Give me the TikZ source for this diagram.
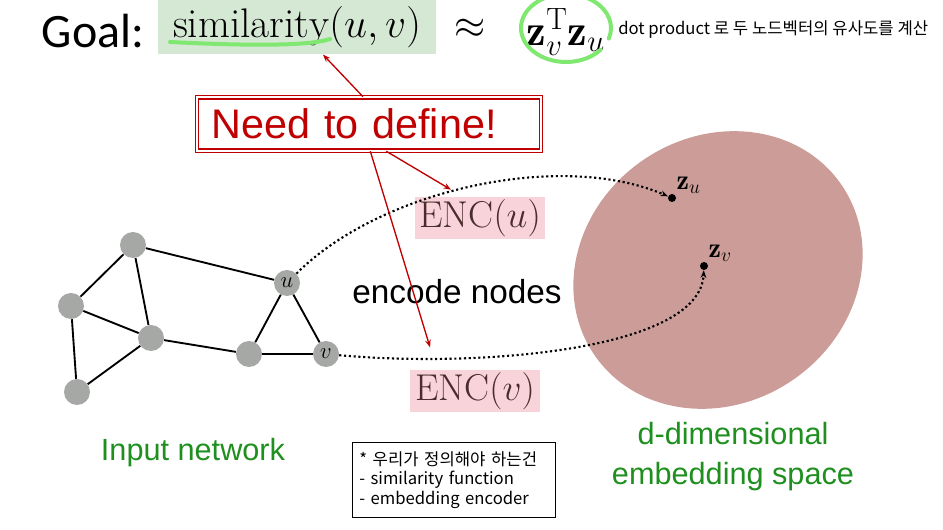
\RequirePackage{fix-cm}
\documentclass[tikz,border=0pt]{standalone}
\usepackage{amsmath}
\usepackage{fontspec}
\newfontfamily\arialf{Liberation Sans}
\newfontfamily\calibf{Carlito}
\newfontfamily\krfont{Noto Sans CJK KR}
\usetikzlibrary{arrows.meta,shapes.geometric}
\definecolor{goalbg}{HTML}{D5E8D4}
\definecolor{hilite}{HTML}{80E870}
\definecolor{needred}{HTML}{C00000}
\definecolor{encbg}{HTML}{F8D3DA}
\definecolor{enctxt}{HTML}{4A2C2C}
\definecolor{embfill}{HTML}{CC9D98}
\definecolor{gnode}{HTML}{A5A8A5}
\definecolor{lblgreen}{HTML}{1F8F1F}
\tikzset{
  >={Stealth[length=2mm]},
  vtx/.style={circle,fill=gnode,inner sep=0pt,minimum size=19.5pt,font=\fontsize{17}{20}\selectfont},
  gedge/.style={line width=1.4pt},
  encbox/.style={fill=encbg,text=enctxt,inner sep=0pt,minimum width=97pt,minimum height=32pt,font=\fontsize{28}{30}\selectfont},
  redarr/.style={->,draw=needred,line width=1pt},
  dotarr/.style={->,dotted,line width=1.6pt},
  greentxt/.style={text=lblgreen,font=\arialf\fontsize{23}{30}\selectfont,align=center},
  emb/.style={circle,fill=black,inner sep=0pt,minimum size=6pt},
}
\begin{document}
\begin{tikzpicture}[x=0.75pt,y=-0.75pt]
\useasboundingbox (0,0) rectangle (943,530);
% goal line
\node[font=\calibf\fontsize{36}{40}\selectfont] (goal) at (93,31) {Goal:};
\node[fill=goalbg,minimum width=209pt,minimum height=41pt,inner sep=0pt,
  font=\fontsize{31}{34}\selectfont] (sim) at (297,27) {$\mathrm{similarity}(u,v)$};
\draw[hilite,line width=3pt,line cap=round] (170,42) .. controls (250,46) and (310,46) .. (330,39);
\node[font=\fontsize{30}{34}\selectfont] (approx) at (470,29) {$\approx$};
\node[inner sep=0pt,font=\fontsize{33}{36}\selectfont] (dotp) at (566,32) {$\mathbf{z}_v^{\mathrm{T}}\mathbf{z}_u$};
\draw[hilite,line width=3pt,line cap=round] (566,28) ++(40:45 and 34) arc[start angle=40,end angle=378,x radius=45,y radius=34];
\node[anchor=west,inner sep=0pt,font=\krfont\fontsize{12.5}{14}\selectfont] (note1) at (618,30) {dot product 로 두 노드벡터의 유사도를 계산};

% need to define
\node[draw=needred,double=white,double distance=1.5pt,line width=0.9pt,
  minimum height=40pt,text width=236pt,inner xsep=11pt,align=left,
  text=needred,font=\arialf\fontsize{31}{34}\selectfont] (need) at (369,124) {Need to define!};

% embedding space
\node[ellipse,fill=embfill,minimum width=225pt,minimum height=199.5pt,inner sep=0pt,rotate=35] (space) at (718,270) {};
\node[emb] (zu) at (672,198) {};
\node[emb] (zv) at (704,266) {};
\node[anchor=south west,inner sep=1pt,font=\fontsize{21}{24}\selectfont] (zulab) at (zu.north east) {$\mathbf{z}_u$};
\node[anchor=south west,inner sep=1pt,font=\fontsize{21}{24}\selectfont] (zvlab) at (zv.north east) {$\mathbf{z}_v$};

% encoders
\node[encbox] (encu) at (480,218) {$\mathrm{ENC}(u)$};
\node[encbox] (encv) at (475,391) {$\mathrm{ENC}(v)$};
\node[font=\arialf\fontsize{25}{28}\selectfont] (encode) at (457,292) {encode nodes};

% input network
\node[vtx] (n1) at (133,245) {};
\node[vtx] (n2) at (71,306) {};
\node[vtx] (n3) at (151,338) {};
\node[vtx] (n4) at (77,392) {};
\node[vtx] (n5) at (249,354) {};
\node[vtx] (u) at (287,283) {$u$};
\node[vtx] (v) at (326,354) {$v$};
\foreach \a/\b in {n1/n2,n1/n3,n1/u,n2/n3,n2/n4,n4/n3,n3/n5,n5/u,n5/v,u/v}
  \draw[gedge] (\a) -- (\b);

% mapping
\draw[dotarr] (u) .. controls (380,190) and (560,150) .. (zu);
\draw[dotarr] (v) .. controls (480,368) and (700,350) .. (zv);

% red pointers
\draw[redarr] ([xshift=-4.5pt]need.north) -- (sim.south -| 323,0);
\draw[redarr] ([xshift=13pt]need.south) -- ([xshift=27pt,yshift=5pt]encu.north west);
\draw[redarr] ([xshift=1pt]need.south) -- ([xshift=15pt,yshift=16.5pt]encv.north west);

% labels
\node[greentxt] (inlab) at (193,453) {Input network};
\node[greentxt] (outlab) at (733,457) {d-dimensional\\embedding space};
\node[draw,line width=0.8pt,minimum width=152pt,minimum height=56pt,inner xsep=5pt,text width=142pt,align=left,
  font=\krfont\fontsize{12.5}{14.6}\selectfont] (todo) at (454,480)
  {* 우리가 정의해야 하는건\\- similarity function\\- embedding encoder};
\end{tikzpicture}
\end{document}
